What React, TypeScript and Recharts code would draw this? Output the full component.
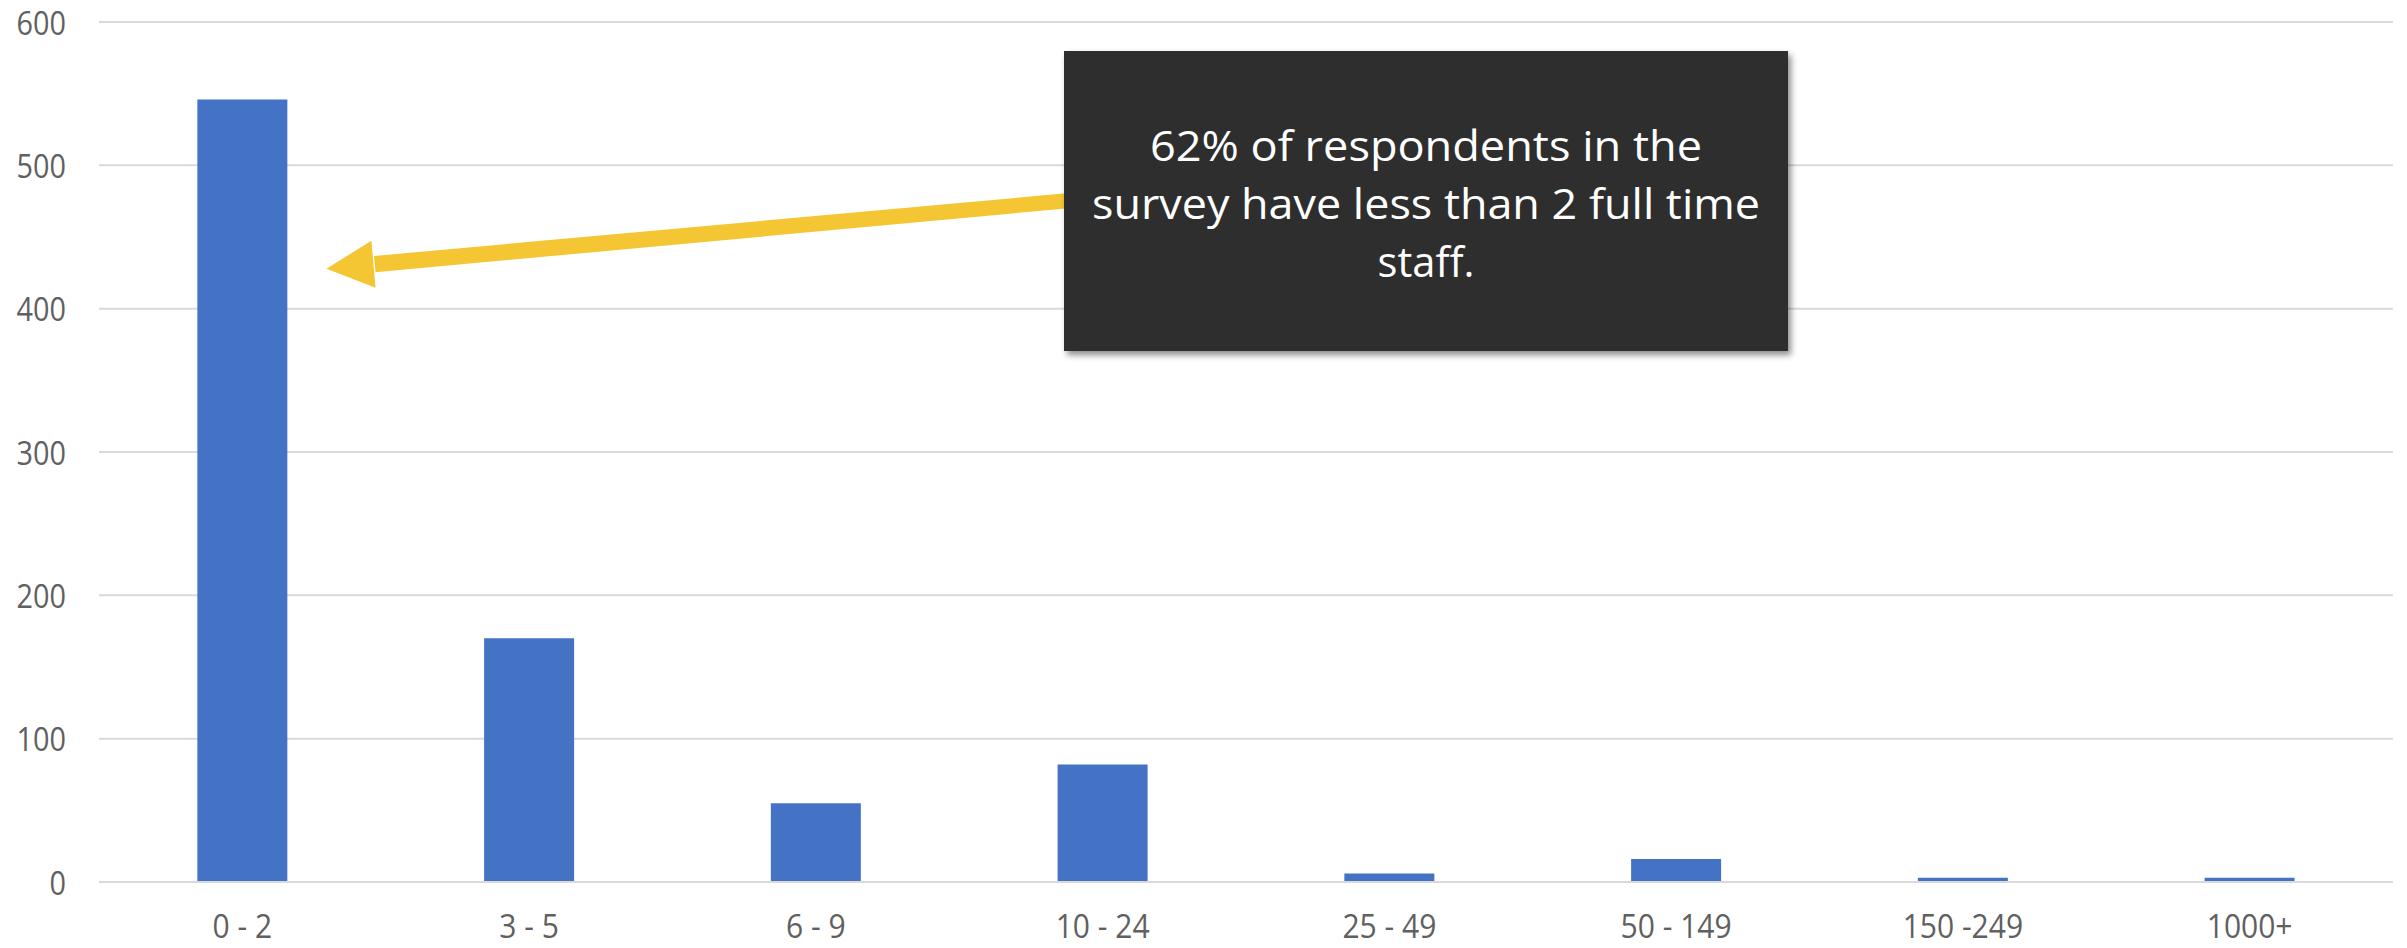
import React from 'react';
import { BarChart, Bar, XAxis, YAxis, CartesianGrid } from 'recharts';

const categories = ['0 - 2', '3 - 5', '6 - 9', '10 - 24', '25 - 49', '50 - 149', '150 -249', '1000+'];
const respondents = [546, 170, 55, 82, 6, 16, 3, 3];
const yTicks = [0, 100, 200, 300, 400, 500, 600];
const annotationLines = ['62% of respondents in the', 'survey have less than 2 full time', 'staff.'];
const annotationWidths = [552, 668, 97];

const data = categories.map((c, i) => ({ category: c, value: respondents[i] }));

const W = 2407;
const H = 948;
const FONT = '"Open Sans", "Noto Sans", sans-serif';

const YTick = (props: any) => {
  const { x, y, payload } = props;
  return (
    <text
      transform={`translate(${x - 33}, ${y + 12.5}) scale(0.9, 1)`}
      textAnchor="end"
      fontFamily={FONT}
      fontSize={32}
      fill="#606060"
    >
      {payload.value}
    </text>
  );
};

const XTick = (props: any) => {
  const { x, y, payload } = props;
  return (
    <text
      transform={`translate(${x}, ${y + 56}) scale(0.91, 1)`}
      textAnchor="middle"
      fontFamily={FONT}
      fontSize={33}
      fill="#606060"
    >
      {payload.value}
    </text>
  );
};

export default function App() {
  return (
    <div style={{ position: 'absolute', left: 0, top: 0, width: W, height: H, background: '#fff' }}>
      <BarChart
        width={W}
        height={H}
        data={data}
        margin={{ top: 22, right: 14, left: 0, bottom: 0 }}
        barCategoryGap="34.3%"
      >
        <CartesianGrid vertical={false} stroke="#D9D9D9" strokeWidth={2} />
        <XAxis
          dataKey="category"
          height={66}
          tickLine={false}
          tickSize={0}
          tickMargin={0}
          axisLine={{ stroke: '#D9D9D9', strokeWidth: 2 }}
          tick={<XTick />}
          interval={0}
        />
        <YAxis
          width={99}
          domain={[0, 600]}
          ticks={yTicks}
          axisLine={false}
          tickLine={false}
          tickSize={0}
          tickMargin={0}
          tick={<YTick />}
          interval={0}
        />
        <Bar dataKey="value" fill="#4472C4" isAnimationActive={false} />
      </BarChart>
      <svg
        width={W}
        height={H}
        style={{ position: 'absolute', left: 0, top: 0, pointerEvents: 'none' }}
      >
        <defs>
          <filter id="boxShadow" x="-10%" y="-10%" width="130%" height="130%">
            <feDropShadow dx="3" dy="4" stdDeviation="3" floodColor="#000" floodOpacity="0.45" />
          </filter>
        </defs>
        <polygon
          points="1066,193.3 1066,208.5 375.5,272.3 374,256"
          fill="#F4C633"
        />
        <polygon points="326.5,268.7 371.4,240.7 375.5,287.7" fill="#F4C633" />
        <rect x={1064} y={51} width={724} height={300} fill="#2F2F2F" filter="url(#boxShadow)" />
        {annotationLines.map((line, i) => (
          <text
            key={i}
            x={1426}
            y={160.5 + i * 58}
            textAnchor="middle"
            fontFamily={FONT}
            fontSize={42}
            fill="#FFFFFF"
            textLength={annotationWidths[i]}
            lengthAdjust="spacingAndGlyphs"
          >
            {line}
          </text>
        ))}
      </svg>
    </div>
  );
}
